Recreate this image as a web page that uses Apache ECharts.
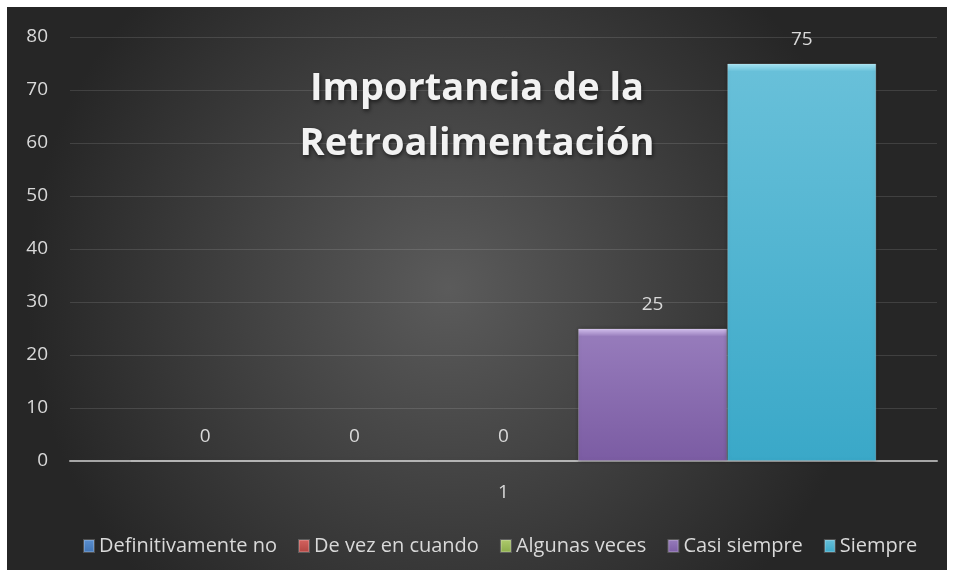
<!DOCTYPE html>
<html>
<head>
<meta charset="utf-8">
<script src="https://cdn.jsdelivr.net/npm/echarts@6/dist/echarts.min.js"></script>
<style>
    html, body { margin: 0; padding: 0; background: #ffffff; }
    #chart { position: absolute; left: 7px; top: 7px; width: 940px; height: 563px; }
</style>
</head>
<body>
<div id="chart"></div>
<script>
// datos
var categories = ['1'];
var seriesNames = ['Definitivamente no', 'De vez en cuando', 'Algunas veces', 'Casi siempre', 'Siempre'];
var seriesValues = [0, 0, 0, 25, 75];
var yTicks = [0, 10, 20, 30, 40, 50, 60, 70, 80];

// colores: [bisel, arriba, abajo]
var colors = [
    ['#a9c8f0', '#5a8fd0', '#3f73b4'],
    ['#f0a9a7', '#d4625f', '#b04440'],
    ['#d8ecaa', '#aecb6c', '#8aab4a'],
    ['#d6c3f0', '#967bbb', '#7b5ca3'],
    ['#a9e6f4', '#68c0d9', '#3aa8c8']
];

var myChart = echarts.init(document.getElementById('chart'));
var font = 'Open Sans';
var plotHeight = 424;
var yMax = yTicks[yTicks.length - 1];

var series = seriesNames.map(function(name, i) {
    var h = seriesValues[i] / yMax * plotHeight;
    var b = h > 0 ? Math.min(0.5, 8 / h) : 0.05;
    return {
        name: name,
        type: 'bar',
        barGap: '0%',
        barCategoryGap: '14%',
        data: [seriesValues[i]],
        itemStyle: {
            color: new echarts.graphic.LinearGradient(0, 0, 0, 1, [
                { offset: 0, color: colors[i][0] },
                { offset: b, color: colors[i][1] },
                { offset: 1, color: colors[i][2] }
            ]),
            borderColor: 'rgba(255,255,255,0.2)',
            borderWidth: 1,
            shadowColor: 'rgba(0,0,0,0.35)',
            shadowBlur: 4
        },
        label: {
            show: true,
            position: 'top',
            distance: 14,
            color: '#d9d9d9',
            fontFamily: font,
            fontSize: 19
        }
    };
});

var option = {
    backgroundColor: {
        type: 'radial', x: 0.47, y: 0.5, r: 0.75,
        colorStops: [
            { offset: 0, color: '#5b5b5b' },
            { offset: 1, color: '#262626' }
        ]
    },
    title: {
        text: 'Importancia de la\nRetroalimentación',
        left: 'center',
        top: 50,
        textStyle: {
            color: '#f2f2f2',
            fontFamily: font,
            fontWeight: 'bold',
            fontSize: 38,
            lineHeight: 55,
            textShadowColor: 'rgba(0,0,0,0.6)',
            textShadowBlur: 4,
            textShadowOffsetX: 1,
            textShadowOffsetY: 2
        }
    },
    legend: {
        data: seriesNames,
        left: 71,
        top: 524,
        itemWidth: 10,
        itemHeight: 12,
        itemGap: 21,
        icon: 'rect',
        textStyle: { color: '#d9d9d9', fontFamily: font, fontSize: 20 }
    },
    grid: { left: 63, top: 30, width: 867, height: plotHeight },
    xAxis: {
        type: 'category',
        data: categories,
        axisLine: { lineStyle: { color: '#a6a6a6', width: 2 } },
        axisTick: { show: false },
        axisLabel: { color: '#d9d9d9', fontFamily: font, fontSize: 19, margin: 22 }
    },
    yAxis: {
        type: 'value',
        min: yTicks[0],
        max: yMax,
        interval: 10,
        axisLine: { show: false },
        axisTick: { show: false },
        splitLine: { lineStyle: { color: 'rgba(255,255,255,0.12)', width: 1 } },
        axisLabel: { color: '#d9d9d9', fontFamily: font, fontSize: 19, margin: 22 }
    },
    series: series
};

myChart.setOption(option);
</script>
</body>
</html>
